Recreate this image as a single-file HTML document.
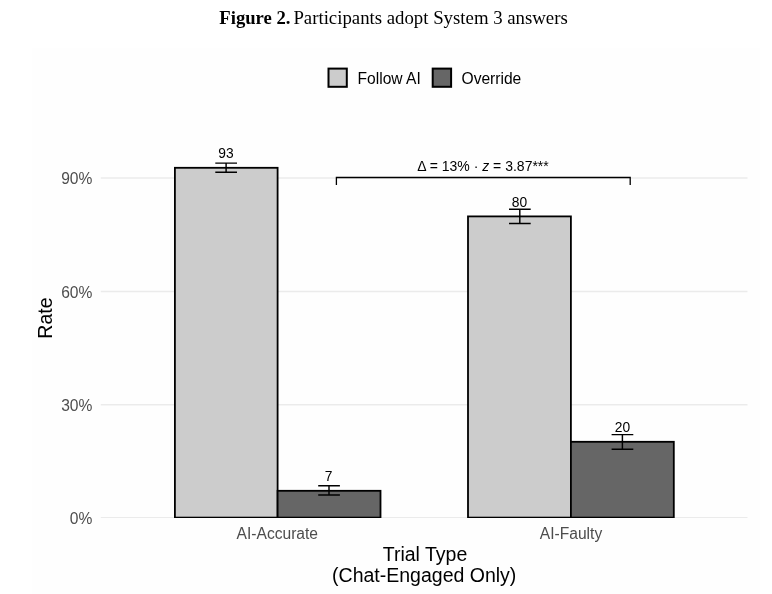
<!DOCTYPE html>
<html><head><meta charset="utf-8">
<style>
html,body{margin:0;padding:0;background:#fff;}
body{width:772px;height:594px;overflow:hidden;position:relative;}
svg{position:absolute;left:0;top:0;}
.t{font-family:"Liberation Serif",serif;font-size:18.67px;fill:#000;}
.s{font-family:"Liberation Sans",sans-serif;}
</style></head><body>
<svg width="772" height="594" viewBox="0 0 772 594">
<rect x="32.300" y="48" width="728" height="546" fill="#fefefe"/>
<text id="title" class="t" x="219.300" y="24.300" font-weight="bold">Figure 2.</text>
<text id="title2" class="t" x="293.400" y="24.300" style="font-size:18.8px">Participants adopt System 3 answers</text>
<!-- legend -->
<rect x="328.500" y="68.600" width="18.300" height="18.200" fill="#cccccc" stroke="#000" stroke-width="2"/>
<text id="l1" class="s" x="357.500" y="83.700" font-size="15.600" fill="#000">Follow AI</text>
<rect x="432.700" y="68.600" width="18.400" height="18.200" fill="#666666" stroke="#000" stroke-width="2"/>
<text id="l2" class="s" x="461.500" y="83.700" font-size="15.600" fill="#000">Override</text>
<defs><clipPath id="pc"><rect x="90" y="100" width="670" height="417.900"/></clipPath></defs>
<!-- grid -->
<g stroke="#ebebeb" stroke-width="1.5" clip-path="url(#pc)">
<line x1="100.800" x2="747.500" y1="178" y2="178"/>
<line x1="100.800" x2="747.500" y1="291.500" y2="291.500"/>
<line x1="100.800" x2="747.500" y1="404.800" y2="404.800"/>
<line x1="100.800" x2="747.500" y1="517.700" y2="517.700"/>
</g>
<!-- y labels -->
<g class="s" font-size="15.600" fill="#4d4d4d" text-anchor="end">
<text id="y90" x="92.400" y="184">90%</text>
<text x="92.400" y="297.500">60%</text>
<text x="92.400" y="410.800">30%</text>
<text x="92.400" y="523.700">0%</text>
</g>
<!-- bars -->
<g stroke="#000" stroke-width="1.8" clip-path="url(#pc)">
<rect x="174.900" y="167.800" width="102.700" height="349.800" fill="#cccccc"/>
<rect x="277.600" y="490.800" width="102.900" height="26.800" fill="#666666"/>
<rect x="468" y="216.400" width="102.900" height="301.200" fill="#cccccc"/>
<rect x="570.900" y="441.800" width="102.900" height="75.800" fill="#666666"/>
</g>
<!-- error bars -->
<g stroke="#000" stroke-width="1.45" fill="none">
<path d="M215.300 163.100H237M215.300 172.200H237M226.100 163.100V172.200"/>
<path d="M318.200 485.700H339.900M318.200 495H339.900M329 485.700V495"/>
<path d="M509 209.300H530.700M509 223.500H530.700M519.800 209.300V223.500"/>
<path d="M611.600 434.600H633.300M611.600 449.200H633.300M622.400 434.600V449.200"/>
</g>
<!-- value labels -->
<g class="s" font-size="13.800" fill="#000" text-anchor="middle">
<text id="v93" x="226" y="157.500">93</text>
<text x="328.600" y="480.700">7</text>
<text x="519.500" y="206.700">80</text>
<text x="622.500" y="432.400">20</text>
</g>
<!-- bracket -->
<path d="M336.400 185V177.500H630.200V185" stroke="#000" stroke-width="1.3" fill="none"/>
<text id="ann" class="s" x="483" y="171" font-size="14" text-anchor="middle" fill="#000">Δ = 13% · <tspan font-style="italic">z</tspan> = 3.87***</text>
<!-- x labels -->
<g class="s" font-size="15.600" fill="#4d4d4d" text-anchor="middle">
<text id="xa" x="277.300" y="538.800">AI-Accurate</text>
<text id="xf" x="571" y="538.800">AI-Faulty</text>
</g>
<g class="s" font-size="19.500" fill="#000" text-anchor="middle">
<text id="xt1" x="425" y="560.800">Trial Type</text>
<text id="xt2" x="424.200" y="581.800">(Chat-Engaged Only)</text>
<text id="yt" transform="translate(52.400,318.100) rotate(-90)" x="0" y="0">Rate</text>
</g>
</svg>
</body></html>
